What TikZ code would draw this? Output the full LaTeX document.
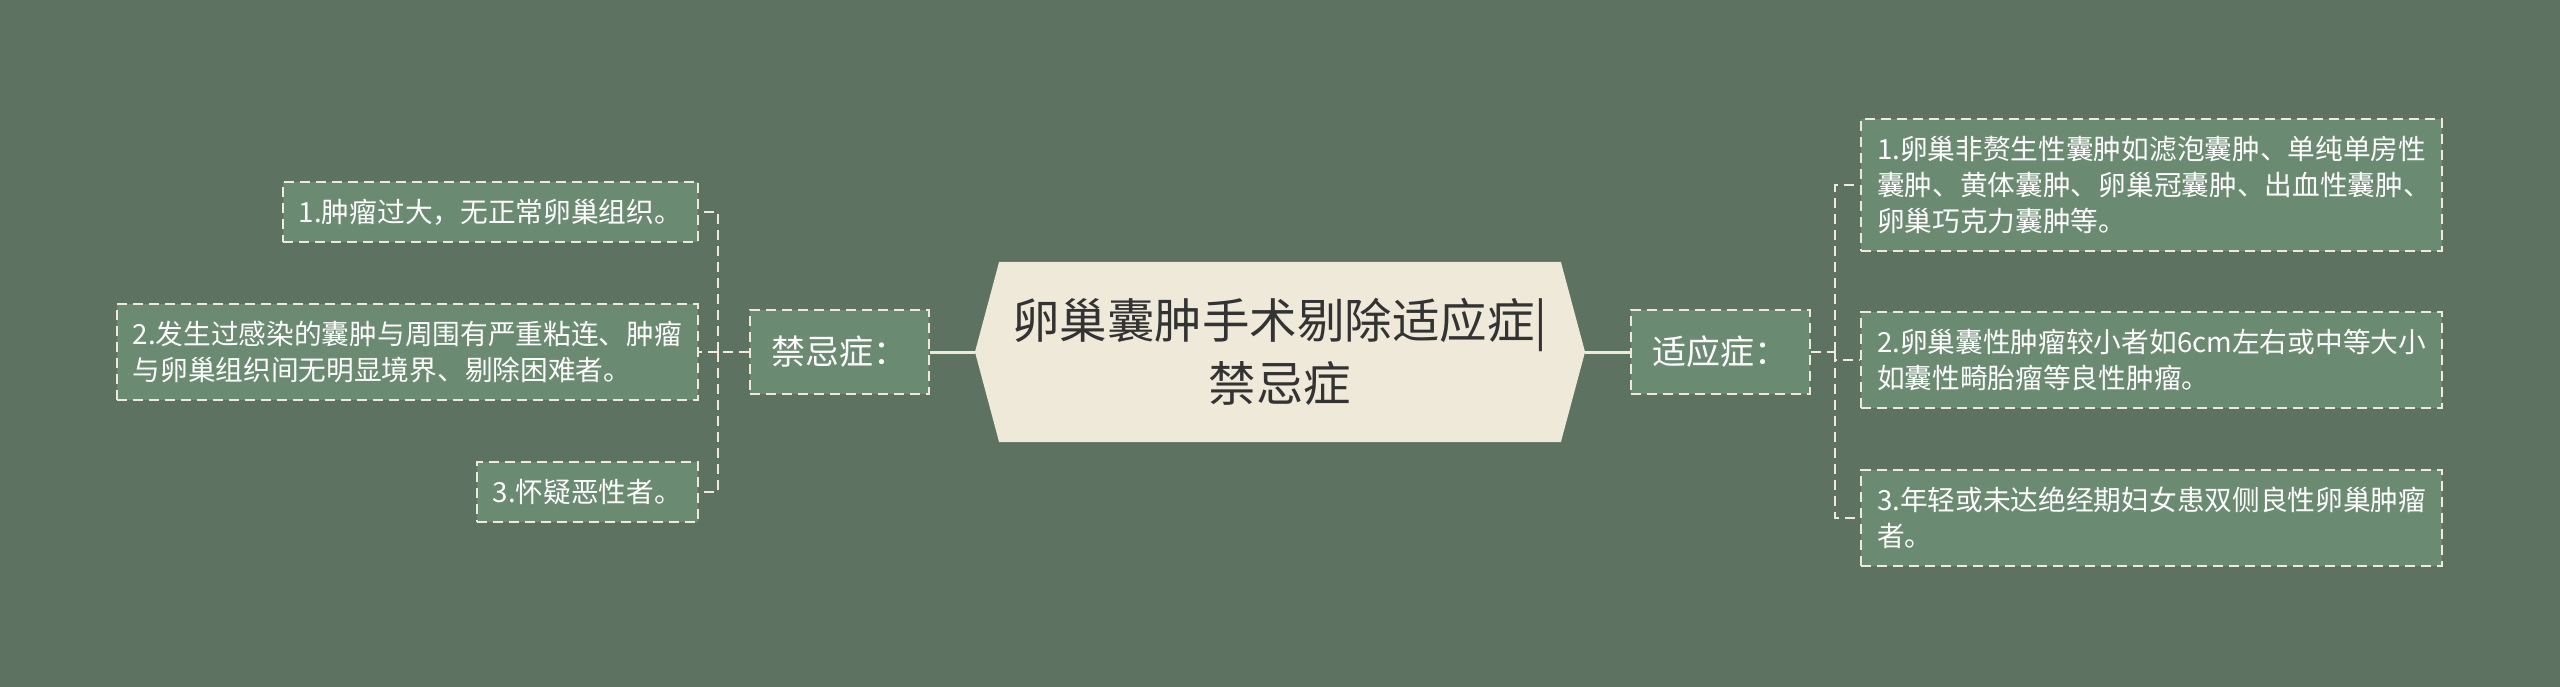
\documentclass[tikz,border=0pt]{standalone}
\usepackage{fontspec}
\setmainfont{Noto Sans CJK SC}
\usetikzlibrary{shapes.symbols}
\definecolor{bg}{RGB}{94,114,98}
\definecolor{boxfill}{RGB}{106,138,114}
\definecolor{cream}{RGB}{239,233,217}
\definecolor{ink}{RGB}{51,51,51}
\tikzset{%
  root/.style={shape=signal, signal to=west and east, signal pointer angle=150,
    fill=cream, draw=cream, line width=2pt, text=ink, minimum width=608pt,
    minimum height=178pt, align=center, font=\fontsize{47.5}{63}\selectfont},% central topic
  box/.style={draw=cream, fill=boxfill, dash pattern=on 10pt off 6pt, line width=2pt,
    text=white, inner xsep=16pt, inner ysep=17pt},
  side/.style={box, minimum width=179pt, minimum height=84pt, font=\fontsize{34}{40}\selectfont},% first level
  leaf/.style={box, align=left, font=\fontsize{27.7}{36}\selectfont},% second level
  wide/.style={leaf, text width=549pt},% wrapped leaves
  trunk/.style={draw=cream, line width=3pt},% solid link from root
  branch/.style={draw=cream, line width=2pt, dash pattern=on 10pt off 6pt}% dashed links
}

\begin{document}
\begin{tikzpicture}[x=1pt, y=-1pt]
\fill[bg] (0,0) rectangle (2560,687);
\useasboundingbox (0,0) rectangle (2560,687);

\node[root] (root) at (1280,352) {卵巢囊肿手术剔除适应症|\\禁忌症};
\node[side] (jin) at (839,352) {禁忌症：};
\node[side] (shi) at (1720,352) {适应症：};

\node[leaf, anchor=east] (j1) at (699,212) {1.肿瘤过大，无正常卵巢组织。};
\node[leaf, anchor=east] (j2) at (699,352) {2.发生过感染的囊肿与周围有严重粘连、肿瘤\\与卵巢组织间无明显境界、剔除困难者。};
\node[leaf, anchor=east] (j3) at (699,492) {3.怀疑恶性者。};

\node[wide, anchor=west] (s1) at (1860,185) {1.卵巢非赘生性囊肿如滤泡囊肿、单纯单房性\\囊肿、黄体囊肿、卵巢冠囊肿、出血性囊肿、\\卵巢巧克力囊肿等。};
\node[wide, anchor=west] (s2) at (1860,360) {2.卵巢囊性肿瘤较小者如6cm左右或中等大小\\如囊性畸胎瘤等良性肿瘤。};
\node[wide, anchor=west] (s3) at (1860,518) {3.年轻或未达绝经期妇女患双侧良性卵巢肿瘤\\者。};

\draw[trunk] (root.west) -- (jin.east);
\draw[trunk] (root.east) -- (shi.west);

\coordinate (jfork) at (718,352);
\coordinate (sfork) at (1835,352);
\draw[branch] (jin.west) -- (jfork);
\draw[branch] (shi.east) -- (sfork);
\foreach \n in {j1,j2,j3} \draw[branch] (jfork) |- (\n.east);
\foreach \n in {s1,s2,s3} \draw[branch] (sfork) |- (\n.west);

\end{tikzpicture}
\end{document}
